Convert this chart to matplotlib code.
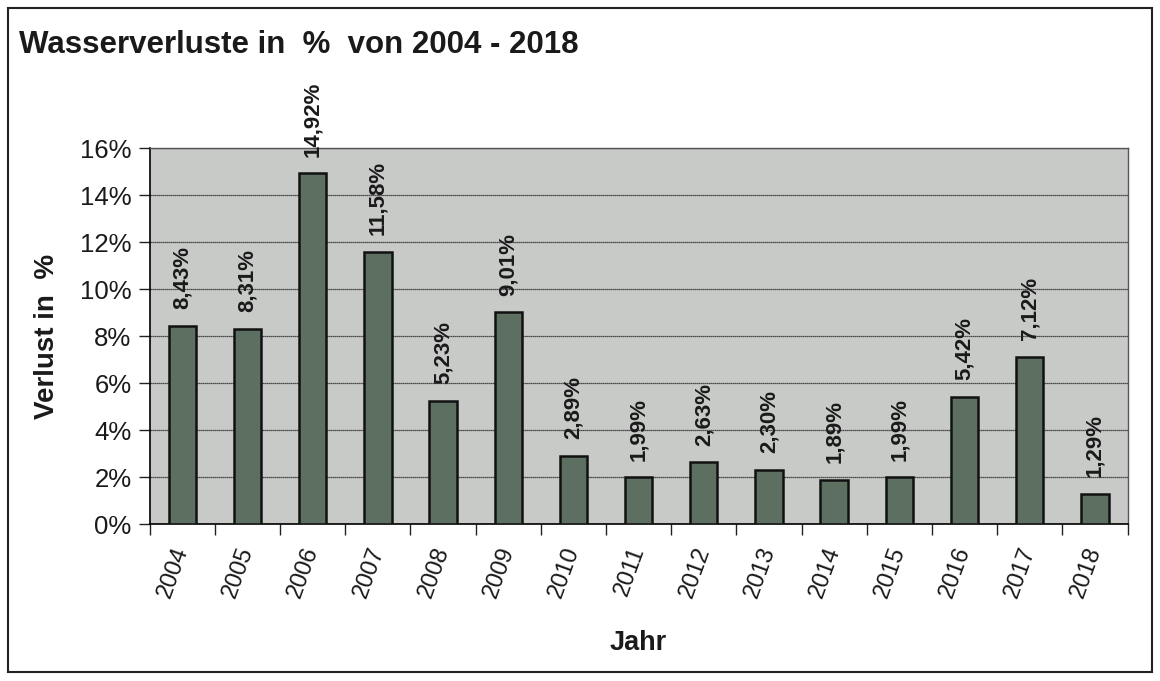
import matplotlib.pyplot as plt
from matplotlib.patches import Rectangle
from matplotlib.ticker import FixedLocator, PercentFormatter

plt.rcParams['font.family'] = ['Liberation Sans', 'DejaVu Sans']

# === Daten ===
jahre = ['2004', '2005', '2006', '2007', '2008', '2009', '2010', '2011',
         '2012', '2013', '2014', '2015', '2016', '2017', '2018']
verlust = [8.43, 8.31, 14.92, 11.58, 5.23, 9.01, 2.89, 1.99,
           2.63, 2.30, 1.89, 1.99, 5.42, 7.12, 1.29]

fig = plt.figure(figsize=(11.6, 6.81), dpi=100)

# äußerer Rahmen
fig.patches.append(Rectangle((0.007, 0.013), 0.986, 0.975, transform=fig.transFigure,
                             fill=False, edgecolor='#222222', linewidth=1.5))

ax = fig.add_axes([0.129, 0.2305, 0.843, 0.552])
ax.set_facecolor('#c8cac8')

x = range(len(jahre))
ax.bar(x, verlust, width=0.42, color='#5c6f60', edgecolor='#111111',
       linewidth=1.8, zorder=3)

# Werte über den Balken
for xi, v in zip(x, verlust):
    ax.annotate(f"{v:.2f}%".replace('.', ','), (xi, v), xytext=(0, 12),
                textcoords='offset points', rotation=90, ha='center', va='bottom',
                fontsize=16, fontweight='bold', color='#1a1a1a', zorder=4)

ax.set_xlim(-0.5, len(jahre) - 0.5)
ax.set_ylim(0, 16)
ax.set_yticks(range(0, 17, 2))
ax.yaxis.set_major_formatter(PercentFormatter(decimals=0))
ax.grid(axis='y', color='#222222', linewidth=0.9, linestyle=(0, (1, 0.6)), zorder=1)

ax.set_xticks(list(x))
ax.set_xticklabels(jahre, rotation=70, rotation_mode='anchor', ha='right', va='center',
                   fontsize=17, color='#1a1a1a')
ax.xaxis.set_minor_locator(FixedLocator([i - 0.5 for i in range(len(jahre) + 1)]))
ax.tick_params(axis='x', which='major', length=0, pad=17)
ax.tick_params(axis='x', which='minor', length=8, width=1, color='#222222')
ax.tick_params(axis='y', length=8, width=1, color='#222222', labelsize=18.5,
               labelcolor='#1a1a1a', pad=5)

for side in ['top', 'right']:
    ax.spines[side].set_color('#555555')
    ax.spines[side].set_linewidth(1)
ax.spines['left'].set_linewidth(1.2)
ax.spines['bottom'].set_linewidth(1.2)

ax.set_xlabel('Jahr', fontsize=19.5, fontweight='bold', color='#1a1a1a')
ax.xaxis.set_label_coords(0.5, -0.316)
ax.xaxis.label.set_va('center')
ax.set_ylabel('Verlust in  %', fontsize=20, fontweight='bold', color='#1a1a1a')
ax.yaxis.set_label_coords(-0.105, 0.5)
ax.yaxis.label.set_va('center')

fig.text(0.016, 0.934, 'Wasserverluste in  %  von 2004 - 2018', fontsize=22.5,
         fontweight='bold', va='center', ha='left', color='#1a1a1a')

plt.savefig('out.png', dpi=100)
